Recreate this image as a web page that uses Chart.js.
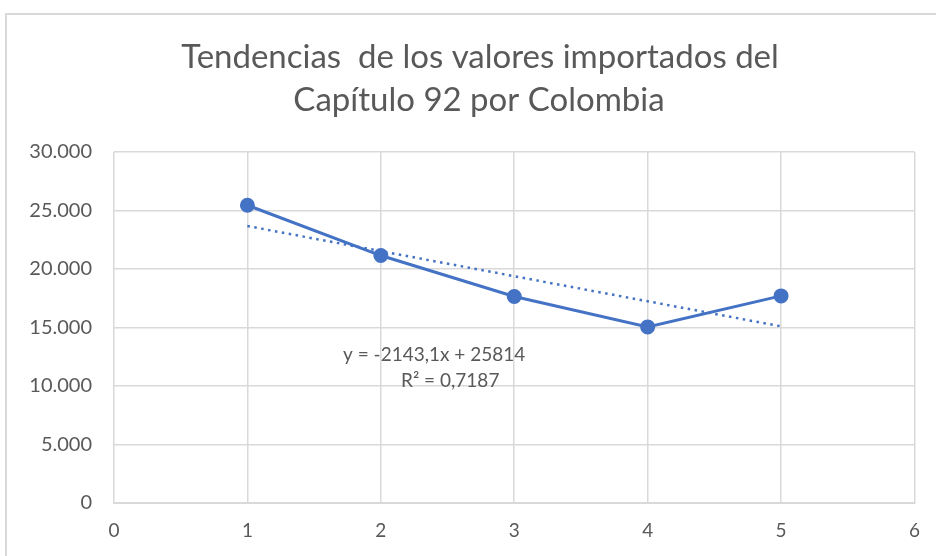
<!DOCTYPE html>
<html>
<head>
<meta charset="utf-8">
<script src="https://cdn.jsdelivr.net/npm/chart.js@4.4.1/dist/chart.umd.min.js"></script>
<style>
  body { margin: 0; background: #fff; }
  #wrap { position: relative; width: 936px; height: 556px; }
  #frame {
    position: absolute; left: 5px; top: 13px; width: 960px; height: 580px;
    border: 2px solid #d9d9d9; box-sizing: border-box; pointer-events: none;
  }
</style>
</head>
<body>
<div id="wrap">
  <canvas id="chart" width="936" height="556"></canvas>
  <div id="frame"></div>
</div>
<script>
const titleLines = ["Tendencias  de los valores importados del", "Capítulo 92 por Colombia"];
const periods = [1, 2, 3, 4, 5];
const importValues = [25450, 21150, 17650, 15050, 17700];
// linear trendline y = -2143,1x + 25814, endpoints at x=1 and x=5
const trendPeriods = [1, 5];
const trendValues = [23671, 15098];
const equationLines = ["y = -2143,1x + 25814", "R² = 0,7187"];
const xTicks = [0, 1, 2, 3, 4, 5, 6];
const yTicks = [0, 5000, 10000, 15000, 20000, 25000, 30000];

const textColor = "#595959";
const gridColor = "#d9d9d9";
const blue = "#4472c4";

const fmt = v => v.toLocaleString("de-DE");

const annotations = {
  id: "annotations",
  afterDraw(chart) {
    const ctx = chart.ctx;
    ctx.save();
    ctx.fillStyle = textColor;
    ctx.textAlign = "center";
    ctx.textBaseline = "middle";
    ctx.font = "33px Lato";
    ctx.fillText(titleLines[0], 480, 57);
    ctx.fillText(titleLines[1], 479, 100);

    const xs = chart.scales.x, ys = chart.scales.y;
    ctx.font = "19px Lato";
    ctx.fillText(equationLines[0], xs.getPixelForValue(2.4), ys.getPixelForValue(12650));
    ctx.fillText(equationLines[1], xs.getPixelForValue(2.52), ys.getPixelForValue(10400));
    ctx.restore();
  }
};

new Chart(document.getElementById("chart"), {
  type: "scatter",
  data: {
    datasets: [
      {
        data: periods.map((x, i) => ({ x: x, y: importValues[i] })),
        showLine: true,
        borderColor: blue,
        backgroundColor: blue,
        borderWidth: 3,
        pointRadius: 6,
        pointHoverRadius: 6,
      },
      {
        data: trendPeriods.map((x, i) => ({ x: x, y: trendValues[i] })),
        showLine: true,
        borderColor: blue,
        borderWidth: 2.5,
        borderDash: [2.5, 4.5],
        pointRadius: 0,
      },
    ],
  },
  options: {
    responsive: false,
    animation: false,
    layout: { padding: { top: 152, right: 21, left: 0, bottom: 0 } },
    scales: {
      x: {
        type: "linear",
        min: 0,
        max: 6,
        afterBuildTicks: s => { s.ticks = xTicks.map(v => ({ value: v })); },
        afterFit: s => { s.height = 53; },
        grid: { color: gridColor, lineWidth: 1.5, drawTicks: false },
        border: { color: gridColor, width: 2 },
        ticks: { color: textColor, font: { family: "Lato", size: 19 }, padding: 16 },
      },
      y: {
        min: 0,
        max: 30000,
        afterBuildTicks: s => { s.ticks = yTicks.map(v => ({ value: v })); },
        afterFit: s => { s.width = 114; },
        grid: { color: gridColor, lineWidth: 1.5, drawTicks: false },
        border: { display: false },
        ticks: { color: textColor, font: { family: "Lato", size: 20 }, padding: 22, callback: v => fmt(v) },
      },
    },
    plugins: {
      legend: { display: false },
      tooltip: { enabled: false },
    },
  },
  plugins: [annotations],
});
</script>
</body>
</html>
